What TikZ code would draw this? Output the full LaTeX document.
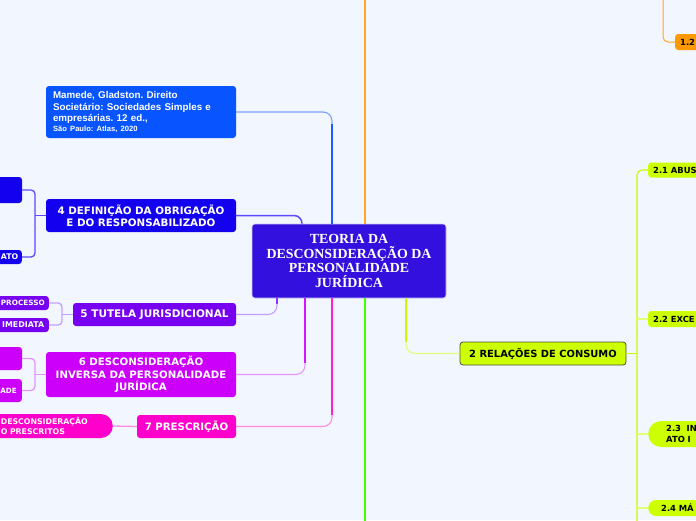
\documentclass[tikz,border=0pt]{standalone}
\usepackage{fontspec}
\newfontfamily\dv{DejaVu Sans}
\newfontfamily\lsans{Liberation Sans}
\newfontfamily\lserif{Liberation Serif}
\frenchspacing
\definecolor{bg}{RGB}{242,246,254}
\definecolor{cmain}{RGB}{51,16,221}
\definecolor{cmam}{RGB}{8,84,255}
\definecolor{cdef}{RGB}{18,0,238}
\definecolor{ctut}{RGB}{120,0,240}
\definecolor{cinv}{RGB}{204,0,250}
\definecolor{cpre}{RGB}{255,0,204}
\definecolor{cyel}{RGB}{204,255,0}
\definecolor{corg}{RGB}{255,153,0}
\definecolor{lblue}{RGB}{26,92,255}
\definecolor{lbluel}{RGB}{125,160,255}
\definecolor{ldef}{RGB}{90,75,255}
\definecolor{ltut}{RGB}{140,50,255}
\definecolor{ltutl}{RGB}{195,160,255}
\definecolor{linv}{RGB}{210,20,255}
\definecolor{linvl}{RGB}{228,150,250}
\definecolor{lpre}{RGB}{255,30,210}
\definecolor{lprel}{RGB}{255,140,225}
\definecolor{lgreen}{RGB}{68,255,0}
\definecolor{lyel}{RGB}{204,250,0}
\definecolor{lyell}{RGB}{225,255,120}
\definecolor{lorg}{RGB}{255,165,40}
\tikzset{
  box/.style={rounded corners=3pt, inner sep=0pt, align=center, text=white, font=\dv\bfseries},
  small/.style={box, anchor=east, align=right},
  ybox/.style={box, fill=cyel, text=black, anchor=west, text width=60pt, align=left, inner xsep=5pt, font=\dv\bfseries\fontsize{8.4}{11}\selectfont},
  thinc/.style={line width=1.1pt, rounded corners=9pt},
  thickc/.style={line width=2.4pt},
}
\begin{document}
\begin{tikzpicture}[x=1pt,y=-1pt]
\useasboundingbox (0,0) rectangle (696,520);
\clip (0,0) rectangle (696,520);
\fill[bg] (0,0) rectangle (696,520);

% central
\node[box, fill=cmain, draw=white!75!cmain, line width=0.6pt, minimum width=194pt, minimum height=74pt,
  font=\lserif\bfseries\fontsize{13.9}{14.9}\selectfont] (c) at (349,261)
  {TEORIA DA\\DESCONSIDERAÇÃO DA\\PERSONALIDADE\\JURÍDICA};

% left main nodes
\node[box, fill=cmam, minimum width=190pt, minimum height=52pt, text width=176pt, align=left,
  font=\lsans\bfseries\fontsize{9.8}{11.8}\selectfont\frenchspacing] (mam) at (141,112)
  {Mamede, Gladston. Direito\\Societário: Sociedades Simples e\\empresárias. 12 ed.,\\[-2.2pt]{\fontsize{7.6}{9}\selectfont São Paulo: Atlas, 2020}};
\node[box, fill=cdef, minimum width=190pt, minimum height=33pt,
  font=\dv\bfseries\fontsize{10.3}{12.3}\selectfont] (def) at (141,215.5)
  {4 DEFINIÇÃO DA OBRIGAÇÃO\\E DO RESPONSABILIZADO};
\node[box, fill=ctut, minimum width=163pt, minimum height=23pt,
  font=\dv\bfseries\fontsize{10.5}{12}\selectfont] (tut) at (154.5,314.5)
  {5 TUTELA JURISDICIONAL};
\node[box, fill=cinv, minimum width=190pt, minimum height=45pt,
  font=\dv\bfseries\fontsize{10.2}{12.7}\selectfont] (inv) at (141,374.5)
  {6 DESCONSIDERAÇÃO\\INVERSA DA PERSONALIDADE\\JURÍDICA};
\node[box, fill=cpre, minimum width=99pt, minimum height=23pt,
  font=\dv\bfseries\fontsize{10.2}{12}\selectfont] (pre) at (186.5,426.5)
  {7 PRESCRIÇÃO};

% left sub nodes
\node[box, fill=cdef, minimum width=40pt, minimum height=26pt] (defa) at (2,190) {};
\node[small, fill=cdef, minimum height=14pt, text width=40pt, inner xsep=3.5pt,
  font=\dv\bfseries\fontsize{7.8}{9}\selectfont] (defb) at (22,257) {ATO};
\node[small, fill=ctut, minimum height=14pt, text width=60pt, inner xsep=4pt,
  font=\dv\bfseries\fontsize{7.3}{9}\selectfont] (tuta) at (49,303) {PROCESSO};
\node[small, fill=ctut, minimum height=14pt, text width=60pt, inner xsep=4.6pt,
  font=\dv\bfseries\fontsize{7.9}{9}\selectfont] (tutb) at (49,325) {IMEDIATA};
\node[box, fill=cinv, minimum width=40pt, minimum height=23pt] (inva) at (2,358.5) {};
\node[small, fill=cinv, minimum height=23pt, text width=40pt, inner xsep=5pt,
  font=\dv\bfseries\fontsize{7.2}{9}\selectfont] (invb) at (22,390.5) {ADE};
\node[box, fill=cpre, rounded corners=12pt, anchor=east, minimum height=24pt, text width=136pt, align=left, inner xsep=0pt,
  font=\dv\bfseries\fontsize{7.8}{10.8}\selectfont] (prc) at (113,426)
  {\hspace*{24pt}DESCONSIDERAÇÃO\\\hspace*{24pt}O PRESCRITOS};

% right nodes
\node[box, fill=cyel, draw=black!70, line width=0.8pt, text=black, minimum width=166pt, minimum height=23pt,
  font=\dv\bfseries\fontsize{9.9}{12}\selectfont] (rel) at (543,353.5) {2 RELAÇÕES DE CONSUMO};
\node[ybox, minimum height=15pt] (a21) at (648,170) {2.1 ABUS};
\node[ybox, minimum height=16pt] (a22) at (648,319) {2.2 EXCE};
\node[ybox, rounded corners=13pt, minimum height=26pt, inner xsep=18pt] (a23) at (648,434) {2.3\ \ IN\\ATO I};
\node[ybox, rounded corners=8pt, minimum height=16pt, inner xsep=13pt] (a24) at (648,508) {2.4 MÁ};
\node[ybox, fill=corg, minimum height=16pt] (one) at (675,42) {1.2};

% coordinates
\coordinate (xm) at (332,0);
\coordinate (xd) at (302,0);
\coordinate (xt) at (277,0);
\coordinate (xi) at (305,0);
\coordinate (xy) at (406,0);
\coordinate (otop) at (365,-5);
\coordinate (gbot) at (365,525);
\coordinate (otop2) at (663,-5);
\coordinate (rx) at (637,0);
\coordinate (rbot) at (637,525);
\coordinate (dx) at (35,0);
\coordinate (tx) at (62,0);
\coordinate (ix) at (35,0);
\coordinate (mv) at (332,124);
\coordinate (iv) at (305,363);
\coordinate (pv) at (332,415);
\coordinate (yv) at (406,342);
\coordinate (tv) at (277,304);

% central connectors
\draw[thinc, lbluel] (mam.east) -| (c.north -| xm);
\draw[thickc, lblue] (c.north -| xm) -- (mv);
\draw[thickc, lorg] (c.north -| otop) -- (otop);
\draw[thinc, ldef, line width=1.5pt, rounded corners=8pt] (def.east) -| (c.north -| xd);
\draw[thinc, ltutl] (tut.east) -| (c.south -| xt);
\draw[thickc, ltut, line width=2pt] (c.south -| xt) -- (tv);
\draw[thinc, linvl] (inv.east) -| (c.south -| xi);
\draw[thickc, linv] (c.south -| xi) -- (iv);
\draw[thinc, lprel] (pre.east) -| (c.south -| xm);
\draw[thickc, lpre] (c.south -| xm) -- (pv);
\draw[thickc, lgreen] (c.south -| gbot) -- (gbot);
\draw[thinc, lyell] (rel.west) -| (c.south -| xy);
\draw[thickc, lyel] (c.south -| xy) -- (yv);

% sub connectors
\draw[line width=1pt, lorg, rounded corners=5pt] (otop2) |- (one.west);
\draw[line width=1.2pt, lyel] (rel.east) -- (rel.east -| rx);
\draw[line width=1.2pt, lyel, rounded corners=5pt] (a21.west) -| (rbot);
\draw[line width=1.2pt, lyell] (rx |- a22.west) -- (a22.west);
\draw[line width=1.2pt, lyell] (rx |- a23.west) -- (a23.west);
\draw[line width=1.2pt, lyell] (rx |- a24.west) -- (a24.west);
\draw[line width=1.3pt, ldef, rounded corners=4pt] (defa.east) -| (dx |- def.west) |- (defb.east);
\draw[line width=1.3pt, ldef] (def.west) -- (dx |- def.west);
\draw[line width=1.3pt, ltutl, rounded corners=4pt] (tuta.east) -| (tx |- tut.west) |- (tutb.east);
\draw[line width=1.3pt, ltutl] (tut.west) -- (tx |- tut.west);
\draw[line width=1.3pt, linvl, rounded corners=4pt] (inva.east) -| (ix |- inv.west) |- (invb.east);
\draw[line width=1.3pt, linvl] (inv.west) -- (ix |- inv.west);
\draw[line width=1.3pt, lprel] (pre.west) -- (prc.east);
\end{tikzpicture}
\end{document}
